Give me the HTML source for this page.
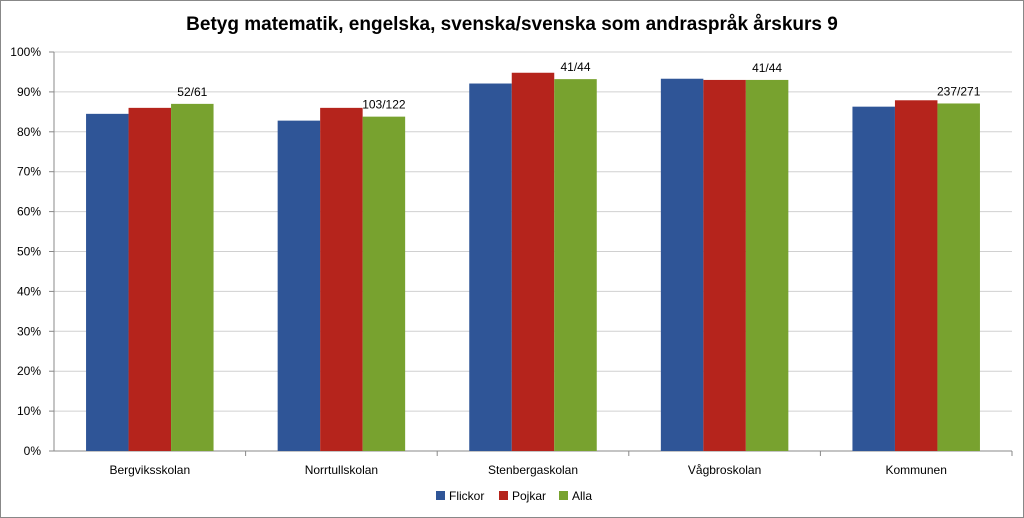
<!DOCTYPE html>
<html><head><meta charset="utf-8"><style>
body{margin:0;background:#fff;}
svg{display:block;font-family:"Liberation Sans",sans-serif;}
</style></head><body>
<svg id="chart" width="1024" height="518">
<rect x="0.5" y="0.5" width="1023" height="517" fill="#fff" stroke="#888"/>
<text x="512" y="30" text-anchor="middle" font-size="19" font-weight="bold" fill="#000">Betyg matematik, engelska, svenska/svenska som andraspråk årskurs 9</text>
<g id="grid"></g><g id="bars"></g><g id="labels"></g>
<g>
<rect x="436" y="491" width="9" height="9" fill="#2F5597"/>
<text x="449" y="500" font-size="12">Flickor</text>
<rect x="499" y="491" width="9" height="9" fill="#B5241C"/>
<text x="512" y="500" font-size="12">Pojkar</text>
<rect x="559" y="491" width="9" height="9" fill="#78A22F"/>
<text x="572" y="500" font-size="12">Alla</text>
</g>
</svg>
<script>
const categories=["Bergviksskolan","Norrtullskolan","Stenbergaskolan","Vågbroskolan","Kommunen"];
const flickor=[84.5,82.8,92.1,93.3,86.3];
const pojkar=[86.0,86.0,94.8,93.0,87.9];
const alla=[87.0,83.8,93.2,93.0,87.1];
const allaLabels=["52/61","103/122","41/44","41/44","237/271"];
const yTicks=[0,10,20,30,40,50,60,70,80,90,100];
const NS="http://www.w3.org/2000/svg";
const x0=54,x1=1012,yTop=52,yBot=451;
const y=v=>yBot-(v/100)*(yBot-yTop);
const gw=(x1-x0)/categories.length;
const bw=42.5;
function mk(tag,attrs,parent){const e=document.createElementNS(NS,tag);for(const k in attrs)e.setAttribute(k,attrs[k]);document.getElementById(parent).appendChild(e);return e;}
yTicks.forEach(t=>{
  const l=mk('line',{x1:x0,x2:x1,y1:y(t),y2:y(t),stroke:t===0?'#888':'#d0d0d0','stroke-width':1},'grid');
  
  
  const tx=mk('text',{x:x0-13,y:y(t)+4,'text-anchor':'end','font-size':12,fill:'#000'},'grid');
  tx.textContent=t+'%';
  
  
  const tk=mk('line',{x1:x0-5,x2:x0,y1:y(t),y2:y(t),stroke:'#888'},'grid');
  
  
});
const ax=mk('line',{x1:x0,x2:x0,y1:yTop,y2:yBot,stroke:'#888'},'grid');


const series=[[flickor,'#2F5597','flickor'],[pojkar,'#B5241C','pojkar'],[alla,'#78A22F','alla']];
categories.forEach((c,i)=>{
  const gx=x0+gw*i, cx=gx+gw/2, start=cx-bw*1.5;
  series.forEach((s,j)=>{
    const r=mk('rect',{x:start+j*bw,y:y(s[0][i]),width:bw,height:yBot-y(s[0][i]),fill:s[1]},'bars');
    
    
  });
  const lt=mk('text',{x:start+2.5*bw,y:y(alla[i])-8,'text-anchor':'middle','font-size':12},'labels');
  lt.textContent=allaLabels[i];
  
  
  const ct=mk('text',{x:cx,y:yBot+23,'text-anchor':'middle','font-size':12},'labels');
  ct.textContent=c;
  
  
  const tk=mk('line',{x1:gx+gw,x2:gx+gw,y1:yBot,y2:yBot+5,stroke:'#888'},'grid');
  
  
});
</script>
</body></html>
